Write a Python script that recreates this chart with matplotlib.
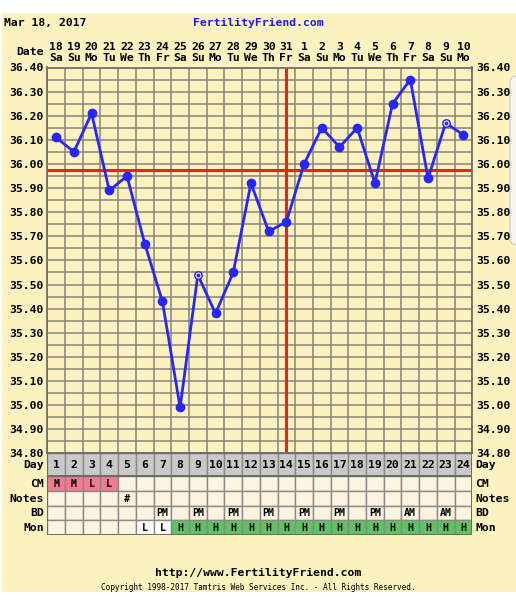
import numpy as np
import matplotlib.pyplot as plt
from matplotlib.patches import Rectangle, FancyBboxPatch
from matplotlib.ticker import MultipleLocator, FormatStrFormatter

# chart data
days = np.arange(1, 25)
dates = ["18", "19", "20", "21", "22", "23", "24", "25", "26", "27", "28", "29",
         "30", "31", "1", "2", "3", "4", "5", "6", "7", "8", "9", "10"]
weekdays = ["Sa", "Su", "Mo", "Tu", "We", "Th", "Fr", "Sa", "Su", "Mo", "Tu", "We",
            "Th", "Fr", "Sa", "Su", "Mo", "Tu", "We", "Th", "Fr", "Sa", "Su", "Mo"]
temps = [36.11, 36.05, 36.21, 35.89, 35.95, 35.67, 35.43, 34.99, 35.54, 35.38, 35.55, 35.92,
         35.72, 35.76, 36.00, 36.15, 36.07, 36.15, 35.92, 36.25, 36.35, 35.94, 36.17, 36.12]
open_days = [9, 23]
coverline = 35.975
ovulation_day = 14
cm_row = {1: "M", 2: "M", 3: "L", 4: "L"}
notes_row = {5: "#"}
bd_row = {7: "PM", 9: "PM", 11: "PM", 13: "PM", 15: "PM", 17: "PM", 19: "PM", 21: "AM", 23: "AM"}
mon_row = {6: "L", 7: "L"}
for d in range(8, 25):
    mon_row[d] = "H"

W, H = 516, 600
BG = "#fcf2bf"
GRID = "#868478"
BLUE = "#2626ff"
RED = "#ee1f1f"
FONT = "DejaVu Sans Mono"
FS = 8.2

fig = plt.figure(figsize=(W / 100, H / 100), dpi=100)
fig.patch.set_facecolor("white")


def fx(x):
    return x / W


def fy(y):
    return 1 - y / H


# page background
fig.patches.append(Rectangle((fx(2), fy(592)), fx(514), (592 - 13) / H,
                             transform=fig.transFigure, facecolor=BG, edgecolor="none", zorder=-10))
fig.patches.append(FancyBboxPatch((fx(510), fy(245)), fx(20), (245 - 76) / H,
                                  boxstyle="round,pad=0,rounding_size=0.012",
                                  transform=fig.transFigure, facecolor="#f8f5ec",
                                  edgecolor="#c8c8c8", lw=0.8, zorder=-9))

x0, x1 = 47.3, 472.3
ytop, ybot = 67.5, 453.3
ax = fig.add_axes([fx(x0), fy(ybot), (x1 - x0) / W, (ybot - ytop) / H])
ax.set_facecolor(BG)
ax.set_xlim(0.5, 24.5)
ax.set_ylim(34.80, 36.40)

ax.yaxis.set_major_locator(MultipleLocator(0.1))
ax.yaxis.set_minor_locator(MultipleLocator(0.05))
ax.yaxis.set_major_formatter(FormatStrFormatter("%.2f"))
ax.set_xticks(days)
ax.set_xticklabels([f"{d}\n{w}" for d, w in zip(dates, weekdays)],
                   fontfamily=FONT, fontweight="bold", fontsize=FS, linespacing=1.15)
ax.set_xticks(np.arange(0.5, 25), minor=True)
ax.tick_params(axis="x", which="both", length=0, labeltop=True, labelbottom=False, pad=3)
ax.tick_params(axis="y", which="both", length=0, labelright=True, pad=2.5)
for lab in ax.get_yticklabels():
    lab.set_fontfamily(FONT)
    lab.set_fontweight("bold")
    lab.set_fontsize(FS)
ax.xaxis.grid(True, which="minor", color=GRID, lw=1.1)
ax.yaxis.grid(True, which="both", color=GRID, lw=1.1)
ax.set_axisbelow(True)
for s in ax.spines.values():
    s.set_color("#707068")
    s.set_linewidth(1.3)

ax.axhline(coverline, color=RED, lw=2.2, zorder=2)
ax.axvline(ovulation_day, color=RED, lw=2.2, zorder=2)
ax.plot(days, temps, color=BLUE, lw=2.0, zorder=3)
closed = [i for i, d in enumerate(days) if d not in open_days]
opened = [i for i, d in enumerate(days) if d in open_days]
ax.plot(days[closed], np.array(temps)[closed], "o", color=BLUE, ms=6.0, zorder=4)
ax.plot(days[opened], np.array(temps)[opened], "o", mfc="#e4e0f2", mec=BLUE, mew=1.0,
        ms=5.4, zorder=4)
ax.plot(days[opened], np.array(temps)[opened], "o", color=BLUE, ms=1.6, zorder=5)

# table below the chart
rows = [453.3, 475.7, 491.0, 505.7, 520.0, 535.0]
tb = fig.add_axes([fx(x0), fy(rows[-1]), (x1 - x0) / W, (rows[-1] - rows[0]) / H])
tb.set_xlim(0.5, 24.5)
tb.set_ylim(rows[-1], rows[0])
tb.axis("off")

row_names = ["Day", "CM", "Notes", "BD", "Mon"]
row_data = [None, cm_row, notes_row, bd_row, mon_row]
for r in range(5):
    top, bot = rows[r], rows[r + 1]
    mid = (top + bot) / 2
    for d in days:
        face = "#fcf4e0"
        txt = ""
        size = 7.2
        if r == 0:
            face = "#c9c9c9"
            txt = str(d)
            size = FS
        else:
            txt = row_data[r].get(d, "")
            if r == 1 and txt:
                face = "#f27a92"
            if r == 4 and txt == "H":
                face = "#5fc45f"
            if r == 4 and txt == "L":
                face = "#ffffff"
        tb.add_patch(Rectangle((d - 0.5, top), 1, bot - top, facecolor=face,
                               edgecolor="#8a8a84", lw=1.0, zorder=1))
        if txt:
            tb.text(d, mid + 0.5, txt, ha="center", va="center", fontfamily=FONT,
                    fontweight="bold", fontsize=size, zorder=3)
    fig.text(fx(44), fy(mid + 0.5), row_names[r], ha="right", va="center",
             fontfamily=FONT, fontweight="bold", fontsize=FS)
    fig.text(fx(475), fy(mid + 0.5), row_names[r], ha="left", va="center",
             fontfamily=FONT, fontweight="bold", fontsize=FS)
tb.add_patch(Rectangle((0.5, rows[0]), 24, rows[-1] - rows[0], facecolor="none",
                       edgecolor="#6a6a66", lw=1.4, zorder=4))
tb.plot([0.5, 24.5], [rows[1], rows[1]], color="#6a6a66", lw=1.4, zorder=4)

# header and footer text
fig.text(fx(4), fy(23), "Mar 18, 2017", ha="left", va="center",
         fontfamily=FONT, fontweight="bold", fontsize=FS)
fig.text(fx(258), fy(23), "FertilityFriend.com", ha="center", va="center",
         fontfamily=FONT, fontweight="bold", fontsize=FS, color="#1a1aff")
fig.text(fx(44), fy(52), "Date", ha="right", va="center",
         fontfamily=FONT, fontweight="bold", fontsize=FS)
fig.text(fx(258), fy(573), "http://www.FertilityFriend.com", ha="center", va="center",
         fontfamily=FONT, fontweight="bold", fontsize=FS)
fig.text(fx(258), fy(587), "Copyright 1998-2017 Tamtris Web Services Inc. - All Rights Reserved.",
         ha="center", va="center", fontfamily=FONT, fontsize=5.6)

fig.savefig("out.png", dpi=100)
